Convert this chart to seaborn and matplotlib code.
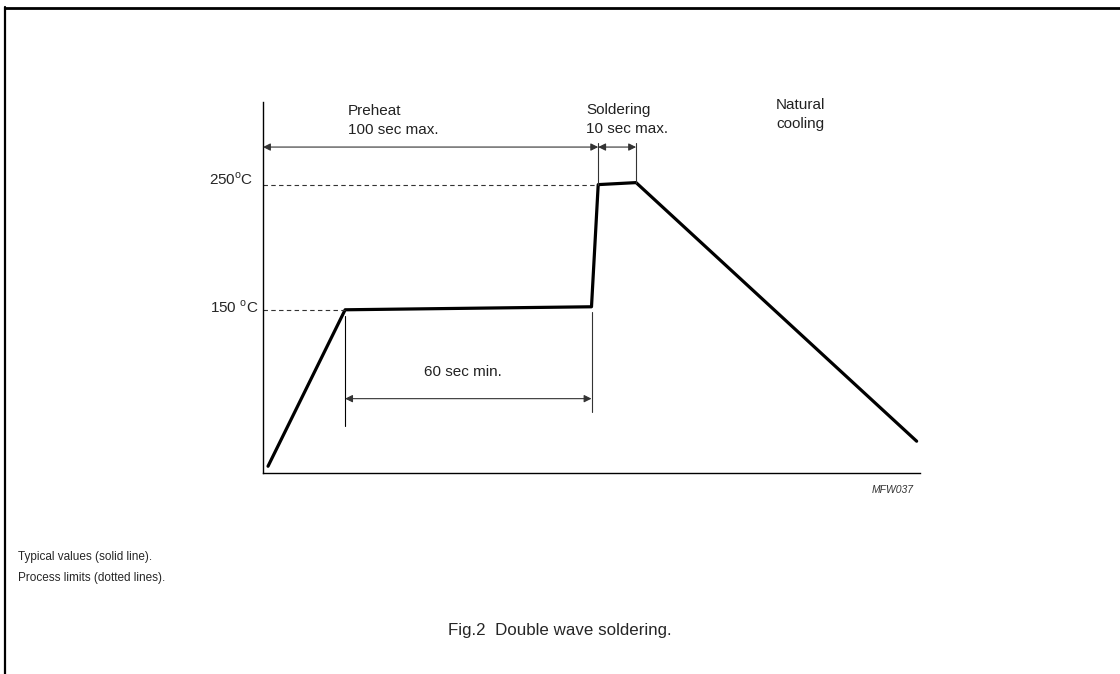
import matplotlib
matplotlib.use("Agg")
import matplotlib.pyplot as plt
from matplotlib.lines import Line2D
import pandas as pd
import seaborn as sns

# Typical soldering profile (time in s, temperature in degC)
time_s = [1.5, 24.5, 98.0, 100.0, 111.3, 195.0]
temp_c = [25.0, 150.0, 152.4, 250.0, 251.6, 45.0]

# Process limit levels and dimension markers
limit_temps = [150, 250]
limit_ends = [24.5, 100.0]
preheat_span = [0.0, 100.0]
solder_span = [100.0, 111.3]
min_span = [24.5, 98.0]

sns.set_style("white")
plt.rcParams["font.family"] = ["Liberation Sans", "DejaVu Sans"]
plt.rcParams["mathtext.fontset"] = "custom"
plt.rcParams["mathtext.rm"] = "Liberation Sans"

fig = plt.figure(figsize=(11.2, 6.74), dpi=100)
ax = fig.add_axes([263 / 1120, 1 - 473 / 674, 657 / 1120, 371 / 674])

df = pd.DataFrame({"time": time_s, "temp": temp_c})
sns.lineplot(data=df, x="time", y="temp", ax=ax, color="black", lw=2.3,
             sort=False, estimator=None)

ax.set_xlim(0, 196)
ax.set_ylim(19.6, 316)
ax.set_xticks([])
ax.set_yticks([])
ax.set_xlabel("")
ax.set_ylabel("")
for side in ["top", "right"]:
    ax.spines[side].set_visible(False)
for side in ["left", "bottom"]:
    ax.spines[side].set_color("black")
    ax.spines[side].set_linewidth(1.0)

# dashed process limit lines
for t, x_end in zip(limit_temps, limit_ends):
    ax.plot([0, x_end], [t, t], ls=(0, (4, 3)), color="#333333", lw=0.8)

# temperature labels left of the axis
ax.annotate("250$^{\\mathrm{o}}$C", xy=(0, 250), xytext=(-7, 4),
            textcoords="offset points", ha="right", va="center", fontsize=11,
            annotation_clip=False)
ax.annotate("150 $^{\\mathrm{o}}$C", xy=(0, 150), xytext=(-3, 2),
            textcoords="offset points", ha="right", va="center", fontsize=11,
            annotation_clip=False)

grey = "#333333"
arrow = dict(arrowstyle="<|-|>", mutation_scale=11, lw=0.8, color=grey,
             shrinkA=0, shrinkB=0)

# extension lines
ax.plot([solder_span[0]] * 2, [250, 283], color=grey, lw=0.8, clip_on=False)
ax.plot([solder_span[1]] * 2, [251.6, 283], color=grey, lw=0.8, clip_on=False)
ax.plot([min_span[0]] * 2, [145, 57], color="black", lw=0.8)
ax.plot([min_span[1]] * 2, [148, 68], color=grey, lw=0.8)

# dimension arrows
ax.annotate("", xy=(preheat_span[0], 280), xytext=(preheat_span[1], 280),
            arrowprops=arrow, annotation_clip=False)
ax.annotate("", xy=(solder_span[0], 280), xytext=(solder_span[1], 280),
            arrowprops=arrow, annotation_clip=False)
ax.annotate("", xy=(min_span[0], 79), xytext=(min_span[1], 79),
            arrowprops=arrow)

# phase labels
label_kw = dict(fontsize=11, ha="left", va="center", color="#222222", clip_on=False)
ax.text(25.4, 309.2, "Preheat", **label_kw)
ax.text(25.4, 294.0, "100 sec max.", **label_kw)
ax.text(96.4, 310.0, "Soldering", **label_kw)
ax.text(96.4, 294.8, "10 sec max.", **label_kw)
ax.text(153.1, 314.0, "Natural", **label_kw)
ax.text(153.1, 298.8, "cooling", **label_kw)
ax.text(59.7, 100.4, "60 sec min.", fontsize=11, ha="center", va="center",
        color="#222222")

# figure annotations
fig.text(914 / 1120, 1 - 490 / 674, "MFW037", fontsize=7.5, style="italic",
         ha="right", va="center", color="#333333")
fig.text(18 / 1120, 1 - 557 / 674, "Typical values (solid line).", fontsize=8.5,
         ha="left", va="center")
fig.text(18 / 1120, 1 - 578 / 674, "Process limits (dotted lines).", fontsize=8.5,
         ha="left", va="center")
fig.text(560 / 1120, 1 - 631 / 674, "Fig.2  Double wave soldering.", fontsize=12.2,
         ha="center", va="center")

# page frame (top and left edges)
fig.add_artist(Line2D([4.5 / 1120, 1], [1 - 8 / 674] * 2, color="black", lw=2.0))
fig.add_artist(Line2D([5 / 1120] * 2, [0, 1 - 7 / 674], color="black", lw=1.6))

fig.savefig("out.png", dpi=100, facecolor="white")
